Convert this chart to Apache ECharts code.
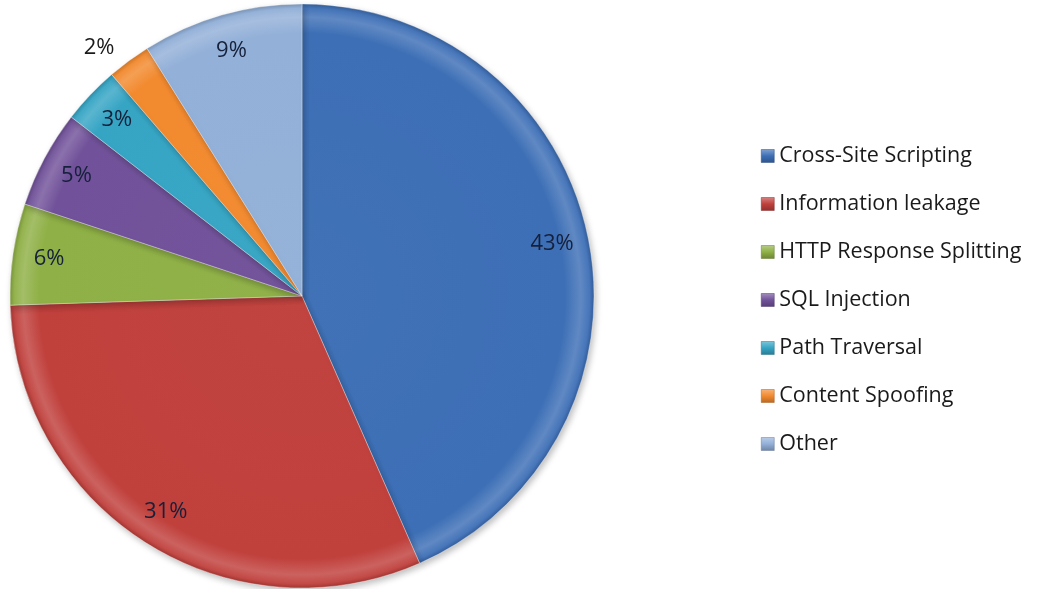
<!DOCTYPE html>
<html>
<head>
<meta charset="utf-8">
<script src="https://cdn.jsdelivr.net/npm/echarts@6/dist/echarts.min.js"></script>
<style>
  html, body { margin: 0; padding: 0; background: #ffffff; }
  #chart { width: 1053px; height: 589px; }
</style>
</head>
<body>
<div id="chart"></div>
<script>
// Share of reported vulnerability classes (percent)
const categories = [
  'Cross-Site Scripting',
  'Information leakage',
  'HTTP Response Splitting',
  'SQL Injection',
  'Path Traversal',
  'Content Spoofing',
  'Other'
];
const shares = [43.4, 31.1, 5.6, 5.4, 3.2, 2.4, 8.9];
const palette = ['#3d6fb6', '#c0403c', '#8fb046', '#71529a', '#36a5c4', '#f28a2f', '#93b0d8'];

const CX = 302, CY = 296, R = 292;
const FONT = '"Open Sans", "Noto Sans", sans-serif';

function shade(hex, f) {
  const n = parseInt(hex.slice(1), 16);
  let r = (n >> 16) & 255, g = (n >> 8) & 255, b = n & 255;
  const mix = (c) => f >= 0 ? Math.round(c + (255 - c) * f) : Math.round(c * (1 + f));
  return 'rgb(' + mix(r) + ',' + mix(g) + ',' + mix(b) + ')';
}

// Bevelled fill: flat centre, lighter rim, darker outer edge
function bevel(hex) {
  return new echarts.graphic.RadialGradient(CX, CY, R, [
    { offset: 0, color: shade(hex, 0.02) },
    { offset: 0.9, color: hex },
    { offset: 0.955, color: shade(hex, 0.18) },
    { offset: 0.985, color: shade(hex, 0.05) },
    { offset: 1, color: shade(hex, -0.15) }
  ], true);
}

function legendIcon(hex) {
  return new echarts.graphic.LinearGradient(0, 0, 0, 1, [
    { offset: 0, color: shade(hex, 0.35) },
    { offset: 0.5, color: hex },
    { offset: 1, color: shade(hex, -0.25) }
  ]);
}

const pieData = categories.map((name, i) => ({
  name: name,
  value: shares[i],
  itemStyle: { color: bevel(palette[i]) }
}));

// Transparent ring that only carries the percentage labels near the rim
const labelData = categories.map((name, i) => {
  const item = { name: name, value: shares[i] };
  if (shares[i] < 3) {
    item.label = { position: 'outside', color: '#1a1a1a' };
    item.labelLine = { show: false, length: 16, length2: 0 };
  }
  return item;
});

const chart = echarts.init(document.getElementById('chart'), null, { renderer: 'canvas' });
chart.setOption({
  animation: false,
  backgroundColor: '#ffffff',
  legend: {
    orient: 'vertical',
    left: 756,
    top: 140,
    itemWidth: 13,
    itemHeight: 13,
    itemGap: 26,
    icon: 'rect',
    selectedMode: false,
    data: categories.map((name, i) => ({
      name: name,
      itemStyle: { color: legendIcon(palette[i]), borderColor: shade(palette[i], -0.3), borderWidth: 0.5 }
    })),
    textStyle: {
      fontFamily: FONT,
      fontSize: 21.5,
      lineHeight: 22,
      color: '#1a1a1a',
      padding: [0, 0, 0, 0]
    }
  },
  series: [
    {
      type: 'pie',
      center: [CX, CY],
      radius: [0, R],
      startAngle: 90,
      clockwise: true,
      silent: true,
      label: { show: false },
      labelLine: { show: false },
      itemStyle: {
        borderColor: 'rgba(255,255,255,0.35)',
        borderWidth: 1,
        shadowColor: 'rgba(0,0,0,0.25)',
        shadowBlur: 6,
        shadowOffsetX: 2,
        shadowOffsetY: 3
      },
      data: pieData
    },
    {
      type: 'pie',
      center: [CX, CY],
      radius: [R * 0.73, R],
      startAngle: 90,
      clockwise: true,
      silent: true,
      legendHoverLink: false,
      itemStyle: { color: 'rgba(0,0,0,0)' },
      label: {
        show: true,
        position: 'inside',
        formatter: (p) => Math.round(p.value) + '%',
        fontFamily: FONT,
        fontSize: 22,
        color: '#15203a'
      },
      labelLine: { show: false },
      data: labelData
    }
  ]
});
</script>
</body>
</html>
